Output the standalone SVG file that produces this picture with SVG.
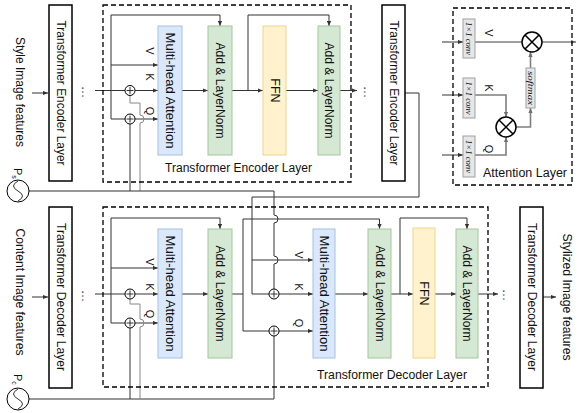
<svg xmlns="http://www.w3.org/2000/svg" width="581" height="413" viewBox="0 0 581 413">
<defs>
<marker id="ah" viewBox="0 0 6 6" refX="6" refY="3" markerWidth="5" markerHeight="5" orient="auto" markerUnits="userSpaceOnUse"><path d="M0,0.5 L6,3 L0,5.5 z" fill="#333"/></marker>
<marker id="ahg" viewBox="0 0 6 6" refX="6" refY="3" markerWidth="5" markerHeight="5" orient="auto" markerUnits="userSpaceOnUse"><path d="M0,0.5 L6,3 L0,5.5 z" fill="#707070"/></marker>
</defs>
<style>
text { font-family: "Liberation Sans", Arial, sans-serif; fill: #111; }
.lbl { font-size: 12.5px; text-anchor: middle; dominant-baseline: central; }
.sm { font-size: 11px; text-anchor: middle; dominant-baseline: central; }
.it { font-family: "Liberation Serif", serif; font-style: italic; font-size: 8.5px; text-anchor: middle; dominant-baseline: central; }
.box { fill: #fff; stroke: #000; stroke-width: 1.5; }
.dash { fill: none; stroke: #000; stroke-width: 1.3; stroke-dasharray: 5 3; }
.mha { fill: #dae8fc; stroke: #a4c0e4; stroke-width: 1; }
.aln { fill: #d5e8d4; stroke: #a3c89a; stroke-width: 1; }
.ffn { fill: #fff2cc; stroke: #f0d48c; stroke-width: 1; }
.conv { fill: #e6e6e6; stroke: #a0a0a0; stroke-width: 1; }
.c { fill: none; stroke: #333; stroke-width: 1; }
.ca { fill: none; stroke: #333; stroke-width: 1; marker-end: url(#ah); }
.g { fill: none; stroke: #888; stroke-width: 1; }
.ga { fill: none; stroke: #7f7f7f; stroke-width: 1.6; }
.gaa { fill: none; stroke: #7f7f7f; stroke-width: 1.6; marker-end: url(#ahg); }
.plus { fill: #fff; stroke: #000; stroke-width: 1; }
.op { fill: #fff; stroke: #000; stroke-width: 1.5; }
.x { fill: none; stroke: #000; stroke-width: 1.5; }
</style>

<!-- Connectors -->
<g id="connectors">
  <!-- encoder -->
  <path class="ca" d="M32,93 H48"/>
  <path class="c" d="M95,90.5 H125"/>
  <path class="ca" d="M135,90.5 H158"/>
  <path class="ca" d="M111,119 V15 H220 V26"/>
  <path class="ca" d="M111,65 H158"/>
  <path class="c" d="M111,119 H125"/>
  <path class="ca" d="M135,119 H158"/>
  <path class="c" d="M130,191 V124"/>
  <path class="g" d="M140,191 V123 A4,4 0 0 0 140,115 V103 H130 V95.5"/>
  <path class="ca" d="M182,90.5 H208"/>
  <path class="ca" d="M232,90.5 H263"/>
  <path class="ca" d="M248,90.5 V15 H329 V26"/>
  <path class="ca" d="M286,90.5 H318"/>
  <path class="ca" d="M340,90.5 H357"/>
  <!-- positional encoding style -->
  <path class="c" d="M29,191 H274 V215 A4,4 0 0 1 274,223 V256 A4,4 0 0 1 274,264 V289"/>
  <!-- encoder memory to decoder -->
  <path class="c" d="M405,93 H419 V197 H252 V294 H269"/>
  <path class="ca" d="M252,260 H313"/>
  <path class="ca" d="M279,294 H313"/>
  <!-- decoder -->
  <path class="ca" d="M32,297 H48"/>
  <path class="c" d="M95,294 H125"/>
  <path class="ca" d="M135,294 H158"/>
  <path class="ca" d="M111,323 V218 H220 V229"/>
  <path class="ca" d="M111,268 H158"/>
  <path class="c" d="M111,323 H125"/>
  <path class="ca" d="M135,323 H158"/>
  <path class="c" d="M29,399 H274 V336"/>
  <path class="c" d="M130,399 V328"/>
  <path class="g" d="M140,399 V327 A4,4 0 0 0 140,319 V304 H130 V299"/>
  <path class="ca" d="M182,294 H208"/>
  <path class="c" d="M232,294 H243"/>
  <path class="c" d="M243,219 V331"/>
  <path class="ca" d="M243,219 H379.5 V229"/>
  <path class="c" d="M243,331 H269"/>
  <path class="ca" d="M279,331 H313"/>
  <path class="ca" d="M335,294 H368"/>
  <path class="ca" d="M391,294 H413"/>
  <path class="ca" d="M400,294 V218 H467 V229"/>
  <path class="ca" d="M435,294 H456"/>
  <path class="ca" d="M478,294 H498"/>
  <path class="ca" d="M543,297 H556"/>
  <!-- attention layer -->
  <path class="ca" d="M442,42 H463"/>
  <path class="ca" d="M442,95 H463"/>
  <path class="ca" d="M442,155 H463"/>
  <path class="ga" d="M475,42 H522"/>
  <path class="gaa" d="M542,42 H576"/>
  <path class="gaa" d="M475,95 H506 V117"/>
  <path class="gaa" d="M475,155 H506 V137"/>
  <path class="gaa" d="M516,127 H530.5 V108"/>
  <path class="gaa" d="M530.5,68 V52"/>
</g>

<!-- Encoder side -->
<g id="style-input"><text class="lbl" transform="rotate(90 20 92)" x="20" y="92" textLength="110" lengthAdjust="spacingAndGlyphs">Style Image features</text></g>
<g id="enc-layer-1"><rect class="box" x="49" y="5" width="23" height="176"/><text class="lbl" transform="rotate(90 60.5 93)" x="60.5" y="93" textLength="145" lengthAdjust="spacingAndGlyphs">Transformer Encoder Layer</text></g>
<g id="enc-dots-1"><text class="lbl" transform="rotate(90 86 92)" x="86" y="92">…</text></g>
<g id="enc-block"><rect class="dash" x="103" y="5" width="248" height="177"/><text class="lbl" x="238.5" y="168" textLength="147" lengthAdjust="spacingAndGlyphs">Transformer Encoder Layer</text></g>
<g id="enc-mha"><rect class="mha" x="158" y="26" width="24" height="129"/><text class="lbl" transform="rotate(90 170 90.5)" x="170" y="90.5" textLength="116" lengthAdjust="spacingAndGlyphs">Multi-head Attention</text></g>
<g id="enc-addln-1"><rect class="aln" x="208" y="26" width="24" height="129"/><text class="lbl" transform="rotate(90 220 90.5)" x="220" y="90.5" textLength="96" lengthAdjust="spacingAndGlyphs">Add &amp; LayerNorm</text></g>
<g id="enc-ffn"><rect class="ffn" x="263" y="26" width="23" height="129"/><text class="lbl" transform="rotate(90 274.5 90.5)" x="274.5" y="90.5">FFN</text></g>
<g id="enc-addln-2"><rect class="aln" x="318" y="26" width="22" height="129"/><text class="lbl" transform="rotate(90 329 90.5)" x="329" y="90.5" textLength="96" lengthAdjust="spacingAndGlyphs">Add &amp; LayerNorm</text></g>
<g id="enc-dots-2"><text class="lbl" transform="rotate(90 368 92)" x="368" y="92">…</text></g>
<g id="enc-layer-2"><rect class="box" x="382" y="5" width="23" height="176"/><text class="lbl" transform="rotate(90 393.5 93)" x="393.5" y="93" textLength="145" lengthAdjust="spacingAndGlyphs">Transformer Encoder Layer</text></g>
<g id="enc-labels">
  <text class="sm" transform="rotate(90 150 51)" x="150" y="51">V</text>
  <text class="sm" transform="rotate(90 150 77)" x="150" y="77">K</text>
  <text class="sm" transform="rotate(90 150 111)" x="150" y="111">Q</text>
</g>
<g id="enc-add-k"><circle class="plus" cx="130" cy="90.5" r="5"/><path class="c" d="M126.5,90.5 H133.5 M130,87 V94"/></g>
<g id="enc-add-q"><circle class="plus" cx="130" cy="119" r="5"/><path class="c" d="M126.5,119 H133.5 M130,115.5 V122.5"/></g>
<g id="pos-s"><circle class="plus" cx="18" cy="191" r="11" stroke-width="1.3"/><path class="c" d="M18,181 Q9,186 18,191 Q27,196 18,201"/><text transform="rotate(90 14 168)" x="14" y="168" font-size="11">P<tspan font-size="7" dy="2">s</tspan></text></g>

<!-- Attention layer -->
<g id="attention-layer">
  <rect class="dash" x="453" y="8" width="119" height="177"/>
  <text class="lbl" x="525" y="173" textLength="84" lengthAdjust="spacingAndGlyphs">Attention Layer</text>
</g>
<g id="conv-v"><rect class="conv" x="463" y="19" width="12" height="39"/><text class="it" transform="rotate(90 469 38.5)" x="469" y="38.5" textLength="33" lengthAdjust="spacingAndGlyphs">1×1 conv</text></g>
<g id="conv-k"><rect class="conv" x="463" y="78" width="12" height="40"/><text class="it" transform="rotate(90 469 98)" x="469" y="98" textLength="33" lengthAdjust="spacingAndGlyphs">1×1 conv</text></g>
<g id="conv-q"><rect class="conv" x="463" y="136" width="12" height="41"/><text class="it" transform="rotate(90 469 156.5)" x="469" y="156.5" textLength="33" lengthAdjust="spacingAndGlyphs">1×1 conv</text></g>
<g id="att-labels">
  <text class="sm" transform="rotate(90 489 33)" x="489" y="33">V</text>
  <text class="sm" transform="rotate(90 489 88)" x="489" y="88">K</text>
  <text class="sm" transform="rotate(90 489 149)" x="489" y="149">Q</text>
</g>
<g id="mul-v"><circle class="op" cx="532" cy="42" r="10"/><path class="x" d="M525,35 L539,49 M539,35 L525,49"/></g>
<g id="mul-qk"><circle class="op" cx="506" cy="127" r="10"/><path class="x" d="M499,120 L513,134 M513,120 L499,134"/></g>
<g id="softmax"><rect class="conv" x="526" y="68" width="9" height="40"/><text class="it" transform="rotate(90 530.5 88)" x="530.5" y="88" textLength="34" lengthAdjust="spacingAndGlyphs">softmax</text></g>

<!-- Decoder side -->
<g id="content-input"><text class="lbl" transform="rotate(90 20 292)" x="20" y="292" textLength="127" lengthAdjust="spacingAndGlyphs">Content Image features</text></g>
<g id="dec-layer-1"><rect class="box" x="49" y="207" width="23" height="181"/><text class="lbl" transform="rotate(90 60.5 297)" x="60.5" y="297" textLength="148" lengthAdjust="spacingAndGlyphs">Transformer Decoder Layer</text></g>
<g id="dec-dots-1"><text class="lbl" transform="rotate(90 86 296)" x="86" y="296">…</text></g>
<g id="dec-block"><rect class="dash" x="103" y="207" width="385" height="180"/><text class="lbl" x="392" y="375" textLength="150" lengthAdjust="spacingAndGlyphs">Transformer Decoder Layer</text></g>
<g id="dec-mha-1"><rect class="mha" x="158" y="229" width="24" height="129"/><text class="lbl" transform="rotate(90 170 293.5)" x="170" y="293.5" textLength="116" lengthAdjust="spacingAndGlyphs">Multi-head Attention</text></g>
<g id="dec-addln-1"><rect class="aln" x="208" y="229" width="24" height="129"/><text class="lbl" transform="rotate(90 220 293.5)" x="220" y="293.5" textLength="96" lengthAdjust="spacingAndGlyphs">Add &amp; LayerNorm</text></g>
<g id="dec-mha-2"><rect class="mha" x="313" y="229" width="22" height="129"/><text class="lbl" transform="rotate(90 324 293.5)" x="324" y="293.5" textLength="116" lengthAdjust="spacingAndGlyphs">Multi-head Attention</text></g>
<g id="dec-addln-2"><rect class="aln" x="368" y="229" width="23" height="129"/><text class="lbl" transform="rotate(90 379.5 293.5)" x="379.5" y="293.5" textLength="96" lengthAdjust="spacingAndGlyphs">Add &amp; LayerNorm</text></g>
<g id="dec-ffn"><rect class="ffn" x="413" y="228" width="22" height="130"/><text class="lbl" transform="rotate(90 424 293.5)" x="424" y="293.5">FFN</text></g>
<g id="dec-addln-3"><rect class="aln" x="456" y="229" width="22" height="129"/><text class="lbl" transform="rotate(90 467 293.5)" x="467" y="293.5" textLength="96" lengthAdjust="spacingAndGlyphs">Add &amp; LayerNorm</text></g>
<g id="dec-dots-2"><text class="lbl" transform="rotate(90 507 295)" x="507" y="295">…</text></g>
<g id="dec-layer-2"><rect class="box" x="520" y="207" width="23" height="181"/><text class="lbl" transform="rotate(90 531.5 297)" x="531.5" y="297" textLength="148" lengthAdjust="spacingAndGlyphs">Transformer Decoder Layer</text></g>
<g id="stylized-output"><text class="lbl" transform="rotate(90 567 297)" x="567" y="297" textLength="127" lengthAdjust="spacingAndGlyphs">Stylized Image features</text></g>
<g id="dec-labels">
  <text class="sm" transform="rotate(90 150 262)" x="150" y="262">V</text>
  <text class="sm" transform="rotate(90 150 287)" x="150" y="287">K</text>
  <text class="sm" transform="rotate(90 150 314)" x="150" y="314">Q</text>
  <text class="sm" transform="rotate(90 299 255)" x="299" y="255">V</text>
  <text class="sm" transform="rotate(90 299 287)" x="299" y="287">K</text>
  <text class="sm" transform="rotate(90 299 323)" x="299" y="323">Q</text>
</g>
<g id="dec-add-k"><circle class="plus" cx="130" cy="294" r="5"/><path class="c" d="M126.5,294 H133.5 M130,290.5 V297.5"/></g>
<g id="dec-add-q"><circle class="plus" cx="130" cy="323" r="5"/><path class="c" d="M126.5,323 H133.5 M130,319.5 V326.5"/></g>
<g id="dec-add-k2"><circle class="plus" cx="274" cy="294" r="5"/><path class="c" d="M270.5,294 H277.5 M274,290.5 V297.5"/></g>
<g id="dec-add-q2"><circle class="plus" cx="274" cy="331" r="5"/><path class="c" d="M270.5,331 H277.5 M274,327.5 V334.5"/></g>
<g id="pos-c"><circle class="plus" cx="18" cy="399" r="11" stroke-width="1.3"/><path class="c" d="M18,389 Q9,394 18,399 Q27,404 18,409"/><text transform="rotate(90 14 374)" x="14" y="374" font-size="11">P<tspan font-size="7" dy="2">c</tspan></text></g>
</svg>
